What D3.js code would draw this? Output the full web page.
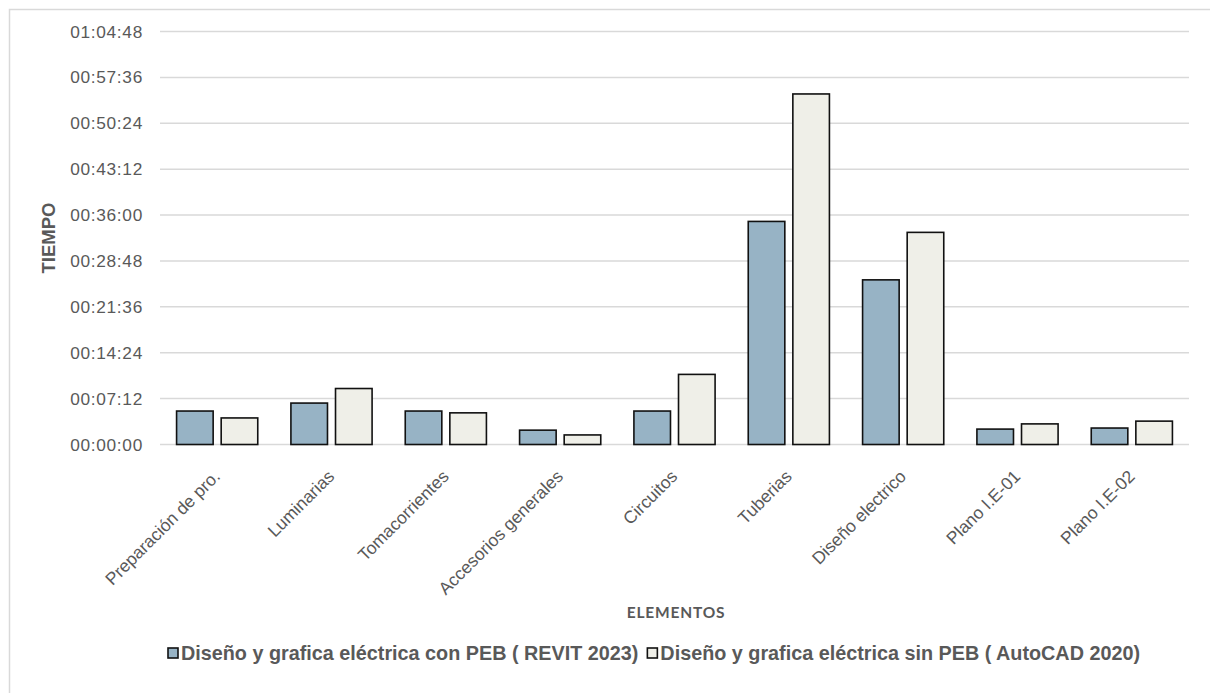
<!DOCTYPE html>
<html>
<head>
<meta charset="utf-8">
<script src="https://cdn.jsdelivr.net/npm/d3@7"></script>
<style>
  html, body { margin: 0; padding: 0; background: #fff; }
  svg { display: block; }
  text { font-family: "Liberation Sans", Arial, sans-serif; fill: #595959; }
</style>
</head>
<body>
<svg id="chart" width="1210" height="693"></svg>
<script>
// ---- data (values in seconds) ----
const categories = ["Preparación de pro.", "Luminarias", "Tomacorrientes", "Accesorios generales",
  "Circuitos", "Tuberias", "Diseño electrico", "Plano I.E-01", "Plano I.E-02"];
const seriesNames = ["Diseño y grafica eléctrica con PEB ( REVIT 2023)",
  "Diseño y grafica eléctrica sin PEB ( AutoCAD 2020)"];
const revitValues   = [315, 390, 315, 135, 315, 2100, 1550, 145, 155];
const autocadValues = [250, 527, 298,  90, 660, 3300, 1997, 194, 220];
const yTicks = [0, 432, 864, 1296, 1728, 2160, 2592, 3024, 3456, 3888];
const seriesColors = ["#97B3C5", "#EFEFE8"];

const FONT = "'Liberation Sans', Arial, sans-serif";
const svg = d3.select("#chart");
const margin = { left: 160, right: 1189, top: 31.5, bottom: 444.5 };

// chart border
svg.append("rect").attr("x", 9.5).attr("y", 9.5).attr("width", 1220).attr("height", 720)
  .attr("fill", "none").attr("stroke", "#D9D9D9").attr("stroke-width", 1.5);

const y = d3.scaleLinear().domain([0, 3888]).range([margin.bottom, margin.top]);
const x0 = d3.scaleBand().domain(categories).range([margin.left, margin.right])
  .paddingInner(0.29).paddingOuter(0.145);
const x1 = d3.scaleBand().domain([0, 1]).range([0, x0.bandwidth()]).paddingInner(0.18);

const fmt = s => {
  const h = Math.floor(s / 3600), m = Math.floor((s % 3600) / 60), sec = s % 60;
  return [h, m, sec].map(v => String(v).padStart(2, "0")).join(":");
};

// gridlines
svg.append("g").selectAll("line").data(yTicks).join("line")
  .attr("x1", margin.left).attr("x2", margin.right)
  .attr("y1", d => y(d)).attr("y2", d => y(d))
  .attr("stroke", "#D9D9D9").attr("stroke-width", 1.5);

// y axis labels
const yAxis = d3.axisLeft(y).tickValues(yTicks).tickFormat(fmt).tickSize(0).tickPadding(0);
const yg = svg.append("g").attr("transform", "translate(143,0)").call(yAxis)
  .attr("font-family", FONT).attr("font-size", 17.3);
yg.select(".domain").remove();
yg.selectAll("text").attr("fill", "#595959").attr("letter-spacing", 0.7);

// bars
const data = categories.map((c, i) => ({ c, vals: [revitValues[i], autocadValues[i]] }));
const groups = svg.append("g").selectAll("g").data(data).join("g")
  .attr("transform", d => `translate(${x0(d.c)},0)`);
groups.selectAll("rect").data(d => d.vals.map((v, k) => ({ v, k }))).join("rect")
  .attr("x", d => x1(d.k)).attr("width", x1.bandwidth())
  .attr("y", d => y(d.v)).attr("height", d => y(0) - y(d.v))
  .attr("fill", d => seriesColors[d.k]).attr("stroke", "#111").attr("stroke-width", 1.6);

// x axis category labels
const xAxis = d3.axisBottom(x0).tickSize(0).tickPadding(0);
const xg = svg.append("g").attr("transform", `translate(0,${margin.bottom})`).call(xAxis)
  .attr("font-family", FONT).attr("font-size", 17.5);
xg.select(".domain").remove();
xg.selectAll(".tick text")
  .attr("fill", "#595959")
  .attr("text-anchor", "end").attr("dy", 0).attr("y", 0)
  .attr("transform", "translate(4,33) rotate(-45)");

// axis titles
svg.append("text").attr("transform", "translate(55,238) rotate(-90)")
  .attr("text-anchor", "middle").attr("font-size", 18.5).attr("font-weight", "bold")
  .attr("fill", "#595959").text("TIEMPO");
svg.append("text").attr("x", 676).attr("y", 618)
  .attr("text-anchor", "middle").attr("font-size", 15.5).attr("font-weight", "bold")
  .style("font-family", "Lato, 'Open Sans', sans-serif").attr("letter-spacing", 0.8)
  .attr("fill", "#595959").text("ELEMENTOS");

// legend
const legend = svg.append("g").attr("transform", "translate(0,660)");
const items = legend.selectAll("g").data(seriesNames).join("g");
items.append("rect").attr("width", 10).attr("height", 10).attr("y", -12)
  .attr("fill", (d, i) => seriesColors[i]).attr("stroke", "#111").attr("stroke-width", 1.6);
items.append("text").attr("x", 13).attr("y", 0).attr("font-size", 19.8).attr("font-weight", "bold")
  .attr("fill", "#595959").text(d => d);
let xpos = 168;
items.each(function () {
  const w = this.getBBox().width;
  d3.select(this).attr("transform", `translate(${xpos},0)`);
  xpos += w + 9;
});
</script>
</body>
</html>
